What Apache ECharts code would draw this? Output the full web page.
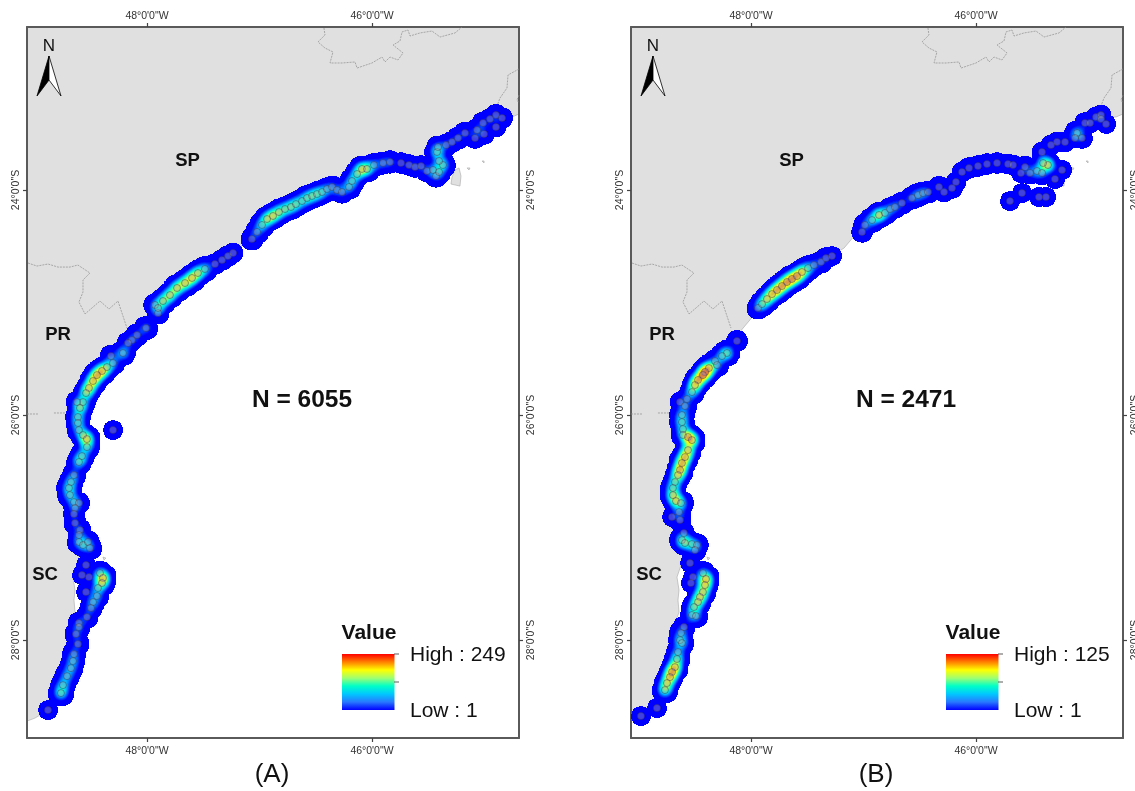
<!DOCTYPE html>
<html><head><meta charset="utf-8">
<style>html,body{margin:0;padding:0;background:#fff}#c{width:1135px;height:791px}</style>
<script src="https://cdn.jsdelivr.net/npm/echarts@6/dist/echarts.min.js"></script>
</head><body><div id="c"></div>
<script>
// [lon, lat, kernel density level]
const sitesA_north = [[-47.067,-24.436,8],[-47.022,-24.373,12],[-46.978,-24.311,20],[-46.933,-24.258,28],[-46.880,-24.231,30],[-46.827,-24.196,25],[-46.773,-24.169,20],[-46.720,-24.151,20],[-46.676,-24.125,20],[-46.622,-24.098,16],[-46.578,-24.071,18],[-46.533,-24.053,18],[-46.489,-24.036,18],[-46.444,-24.018,16],[-46.400,-23.991,10],[-46.355,-23.973,8],[-46.311,-24.000,8],[-46.267,-24.018,10],[-46.204,-23.973,16],[-46.178,-23.920,18],[-46.133,-23.858,22],[-46.089,-23.813,30],[-46.044,-23.813,24],[-45.982,-23.778,14],[-45.902,-23.760,10],[-45.840,-23.751,10],[-45.742,-23.760,6],[-45.671,-23.778,6],[-45.618,-23.796,6],[-45.564,-23.787,6],[-45.511,-23.831,8],[-45.458,-23.822,10],[-45.431,-23.876,10],[-45.404,-23.840,14],[-45.369,-23.778,20],[-45.404,-23.742,14],[-45.422,-23.662,22],[-45.413,-23.618,10],[-45.342,-23.600,8],[-45.289,-23.573,6],[-45.235,-23.538,8],[-45.173,-23.493,8],[-45.084,-23.538,6],[-45.004,-23.502,6],[-45.066,-23.467,10],[-45.013,-23.404,8],[-44.951,-23.369,6],[-44.898,-23.333,6],[-44.844,-23.360,6],[-44.898,-23.440,5]];
const sitesA_central = [[-48.134,-25.334,6],[-48.089,-25.289,10],[-48.009,-25.227,14],[-47.929,-25.022,10],[-47.902,-25.094,8],[-47.902,-25.049,16],[-47.858,-24.987,30],[-47.796,-24.934,34],[-47.733,-24.871,36],[-47.662,-24.827,40],[-47.600,-24.782,36],[-47.547,-24.738,30],[-47.485,-24.702,20],[-47.396,-24.658,6],[-47.333,-24.622,6],[-47.280,-24.587,6],[-47.235,-24.560,5],[-48.169,-25.360,8],[-48.214,-25.449,22],[-48.320,-25.476,8]];
const sitesA_south = [[-48.302,-25.538,14],[-48.356,-25.574,22],[-48.400,-25.609,60],[-48.445,-25.645,60],[-48.480,-25.698,45],[-48.516,-25.760,32],[-48.542,-25.805,24],[-48.569,-25.885,18],[-48.622,-25.885,8],[-48.596,-25.938,26],[-48.614,-26.018,18],[-48.614,-26.071,16],[-48.605,-26.134,14],[-48.569,-26.178,18],[-48.534,-26.214,44],[-48.534,-26.285,22],[-48.578,-26.365,20],[-48.605,-26.418,22],[-48.649,-26.534,14],[-48.676,-26.596,16],[-48.694,-26.649,18],[-48.685,-26.712,18],[-48.649,-26.774,14],[-48.605,-26.783,7],[-48.640,-26.827,7],[-48.649,-26.880,7],[-48.640,-26.960,8],[-48.596,-27.023,8],[-48.605,-27.067,8],[-48.605,-27.129,14],[-48.569,-27.156,14],[-48.525,-27.129,10],[-48.507,-27.183,12],[-48.542,-27.334,4],[-48.578,-27.423,4],[-48.516,-27.441,4],[-48.542,-27.574,4],[-48.418,-27.405,16],[-48.391,-27.449,44],[-48.400,-27.494,24],[-48.436,-27.538,16],[-48.445,-27.609,14],[-48.480,-27.663,14],[-48.498,-27.716,10],[-48.534,-27.796,10],[-48.605,-27.849,8],[-48.605,-27.885,8],[-48.631,-27.947,10],[-48.614,-28.036,10],[-48.649,-28.125,12],[-48.658,-28.187,14],[-48.676,-28.250,16],[-48.711,-28.321,18],[-48.747,-28.401,20],[-48.765,-28.472,26],[-48.880,-28.623,4],[-48.302,-26.134,4]];
const sitesB_north = [[-47.013,-24.373,6],[-46.987,-24.311,10],[-46.924,-24.267,20],[-46.862,-24.222,34],[-46.809,-24.204,12],[-46.764,-24.169,10],[-46.720,-24.151,10],[-46.658,-24.116,8],[-46.569,-24.071,10],[-46.516,-24.045,12],[-46.471,-24.027,10],[-46.427,-24.018,8],[-46.329,-23.973,6],[-46.284,-24.018,5],[-46.213,-23.982,6],[-46.178,-23.929,5],[-46.124,-23.840,5],[-46.062,-23.805,6],[-45.982,-23.787,6],[-45.902,-23.769,6],[-45.813,-23.760,6],[-45.715,-23.769,5],[-45.671,-23.778,5],[-45.600,-23.849,4],[-45.564,-23.796,8],[-45.520,-23.849,8],[-45.458,-23.831,14],[-45.413,-23.849,12],[-45.360,-23.778,34],[-45.404,-23.760,20],[-45.413,-23.662,5],[-45.333,-23.600,5],[-45.280,-23.573,5],[-45.209,-23.573,5],[-45.235,-23.822,4],[-45.298,-23.902,4],[-45.591,-24.027,4],[-45.698,-24.098,4],[-45.440,-24.062,4],[-45.378,-24.062,4],[-45.102,-23.493,20],[-45.058,-23.538,6],[-45.120,-23.538,5],[-45.031,-23.404,6],[-44.986,-23.404,5],[-44.933,-23.351,5],[-44.889,-23.333,5],[-44.889,-23.369,5],[-44.844,-23.413,4]];
const sitesB_central = [[-47.938,-25.049,8],[-47.902,-25.014,22],[-47.858,-24.969,30],[-47.813,-24.925,34],[-47.769,-24.889,36],[-47.725,-24.854,44],[-47.680,-24.818,60],[-47.636,-24.791,60],[-47.591,-24.765,58],[-47.547,-24.729,34],[-47.493,-24.694,18],[-47.440,-24.667,8],[-47.378,-24.640,8],[-47.333,-24.605,6],[-47.280,-24.587,4],[-48.125,-25.342,6],[-48.214,-25.449,26],[-48.258,-25.476,14]];
const sitesB_south = [[-48.320,-25.520,8],[-48.302,-25.556,12],[-48.374,-25.583,60],[-48.409,-25.618,60],[-48.427,-25.645,58],[-48.471,-25.689,40],[-48.498,-25.734,32],[-48.525,-25.796,22],[-48.569,-25.858,8],[-48.631,-25.885,5],[-48.587,-25.920,12],[-48.614,-26.000,18],[-48.614,-26.063,20],[-48.605,-26.125,16],[-48.605,-26.178,12],[-48.560,-26.196,44],[-48.525,-26.223,60],[-48.560,-26.312,40],[-48.587,-26.374,44],[-48.614,-26.427,50],[-48.631,-26.489,40],[-48.649,-26.534,28],[-48.676,-26.596,20],[-48.694,-26.649,18],[-48.694,-26.712,28],[-48.667,-26.765,30],[-48.622,-26.783,18],[-48.640,-26.863,12],[-48.702,-26.907,4],[-48.631,-26.934,8],[-48.596,-27.049,6],[-48.614,-27.112,20],[-48.587,-27.138,22],[-48.525,-27.147,16],[-48.480,-27.156,10],[-48.498,-27.201,8],[-48.542,-27.316,4],[-48.516,-27.441,4],[-48.534,-27.494,4],[-48.427,-27.405,14],[-48.400,-27.458,48],[-48.409,-27.512,30],[-48.427,-27.574,26],[-48.454,-27.618,26],[-48.471,-27.663,24],[-48.507,-27.707,22],[-48.525,-27.778,14],[-48.489,-27.787,14],[-48.596,-27.885,8],[-48.622,-27.938,12],[-48.631,-28.001,14],[-48.614,-28.027,16],[-48.649,-28.107,14],[-48.658,-28.169,24],[-48.676,-28.241,44],[-48.702,-28.285,34],[-48.720,-28.330,32],[-48.747,-28.383,28],[-48.765,-28.445,30],[-48.836,-28.605,4],[-48.978,-28.676,4]];

const landRing = [[-49.067,-28.721],[-48.996,-28.694],[-48.934,-28.658],[-48.845,-28.552],[-48.774,-28.401],[-48.703,-28.178],[-48.667,-27.956],[-48.658,-27.805],[-48.640,-27.752],[-48.649,-27.645],[-48.640,-27.556],[-48.658,-27.441],[-48.622,-27.334],[-48.578,-27.156],[-48.667,-26.934],[-48.720,-26.667],[-48.640,-26.400],[-48.614,-26.134],[-48.667,-25.911],[-48.551,-25.734],[-48.418,-25.556],[-48.196,-25.378],[-47.973,-25.111],[-47.751,-24.889],[-47.396,-24.658],[-47.173,-24.516],[-46.978,-24.285],[-46.640,-24.071],[-46.284,-23.982],[-46.107,-23.778],[-45.840,-23.733],[-45.573,-23.778],[-45.431,-23.778],[-45.467,-23.627],[-45.173,-23.467],[-44.889,-23.342],[-44.755,-23.351],[-44.693,-23.324],[-44.693,-22.551],[-49.067,-22.551],[-49.067,-28.721]];
const islandRings = [
  [[-45.262,-23.822],[-45.226,-23.804],[-45.209,-23.876],[-45.218,-23.965],[-45.298,-23.947],[-45.289,-23.885],[-45.262,-23.822]],
  [[-45.155,-23.804],[-45.129,-23.804],[-45.138,-23.822],[-45.155,-23.804]],
  [[-45.022,-23.742],[-45.004,-23.742],[-45.004,-23.760],[-45.022,-23.742]],
  [[-48.391,-27.263],[-48.365,-27.272],[-48.382,-27.289],[-48.391,-27.263]]
];
const stateLines = [
  [[-46.427,-22.560],[-46.418,-22.622],[-46.480,-22.684],[-46.418,-22.738],[-46.347,-22.773],[-46.373,-22.871],[-46.267,-22.871],[-46.151,-22.862],[-46.133,-22.916],[-46.000,-22.871],[-45.911,-22.818],[-45.884,-22.862],[-45.840,-22.818],[-45.769,-22.844],[-45.724,-22.782],[-45.813,-22.711],[-45.751,-22.675],[-45.733,-22.595],[-45.680,-22.578],[-45.662,-22.631],[-45.573,-22.604],[-45.467,-22.587],[-45.395,-22.640],[-45.262,-22.604],[-45.200,-22.551]],
  [[-44.693,-22.924],[-44.791,-22.978],[-44.800,-23.093],[-44.862,-23.182],[-44.889,-23.253]],
  [[-44.693,-23.156],[-44.711,-23.200],[-44.693,-23.227]],
  [[-49.058,-24.649],[-48.978,-24.676],[-48.880,-24.658],[-48.791,-24.685],[-48.685,-24.685],[-48.614,-24.667],[-48.507,-24.738],[-48.569,-24.800],[-48.569,-24.907],[-48.605,-24.996],[-48.551,-25.102],[-48.418,-24.987],[-48.338,-25.058],[-48.258,-24.987],[-48.178,-25.227]],
  [[-49.067,-25.991],[-48.969,-25.991]],
  [[-48.827,-25.982],[-48.685,-25.982]]
];
const lonTicks = [-48, -46];
const latTicks = [-24, -26, -28];
const lonLabels = {'-48': '48°0\'0"W', '-46': '46°0\'0"W'};
const latLabels = {'-24': '24°0\'0"S', '-26': '26°0\'0"S', '-28': '28°0\'0"S'};
const lonRange = [-49.0667, -44.6933];
const latRange = [-28.8711, -22.5511];
const panelNames = ['(A)', '(B)'];
const sampleSizes = ['N = 6055', 'N = 2471'];
const highLabels = ['High : 249', 'High : 125'];
const lowLabel = 'Low : 1';
const stateNames = ['SP', 'PR', 'SC'];
const heatColors = ['#0000ff','#0000ff','#0060ff','#00c0ff','#00ffd0','#a0ff60','#ffff00','#ff9000','#ff2000','#ff0000','#ff0000'];
const rampColors = ['#ff0000','#ff8000','#ffff00','#a0ff70','#00ffc8','#00c8ff','#2878ff','#0000ff'];

const FONT = '"Liberation Sans", Arial, sans-serif';
const sitesA = [...sitesA_north, ...sitesA_central, ...sitesA_south];
const sitesB = [...sitesB_north, ...sitesB_central, ...sitesB_south];

echarts.registerMap('coast', {type:'FeatureCollection', features:[
  {type:'Feature', properties:{name:'land'}, geometry:{type:'Polygon', coordinates:[landRing]}},
  {type:'Feature', properties:{name:'islands'}, geometry:{type:'MultiPolygon', coordinates:islandRings.map(r=>[r])}}
]});

const panelLeft = [27, 631], frameW = 492, frameH = 711, frameTop = 27;
const axisLine = {show:true, onZero:false, lineStyle:{color:'#5a5a5a', width:2}};
const tick = (vals)=>({show:true, length:4, customValues:vals, lineStyle:{color:'#444', width:1.2}});
const xAxes = [], yAxes = [], grids = [], geos = [], series = [], visualMaps = [];
[0,1].forEach(p=>{
  grids.push({left:panelLeft[p], top:frameTop, width:frameW, height:frameH, containLabel:false, outerBoundsMode:'none'});
  geos.push({map:'coast', left:panelLeft[p], top:frameTop, width:frameW, height:frameH, aspectScale:1, roam:false, silent:true, z:0,
    boundingCoords:[[lonRange[0],latRange[1]],[lonRange[1],latRange[0]]],
    label:{show:false}, itemStyle:{areaColor:'#e0e0e0', borderColor:'#a8a8a8', borderWidth:0.6}, emphasis:{disabled:true}, select:{disabled:true}});
  ['top','bottom'].forEach((pos,i)=>xAxes.push({type:'value', gridIndex:p, position:pos, min:lonRange[0], max:lonRange[1], splitLine:{show:false}, axisLine, axisTick:tick(lonTicks),
    axisLabel:{customValues:lonTicks, margin:[5,8][i], fontSize:10.5, fontFamily:FONT, color:'#333', formatter:v=>lonLabels[Math.round(v)]}}));
  ['left','right'].forEach((pos,i)=>yAxes.push({type:'value', gridIndex:p, position:pos, min:latRange[0], max:latRange[1], splitLine:{show:false}, axisLine, axisTick:tick(latTicks),
    axisLabel:{customValues:latTicks, rotate:90, margin:[5,7][i], fontSize:10.5, fontFamily:FONT, color:'#333', formatter:v=>latLabels[Math.round(v)]}}));
});
[sitesA, sitesB].forEach((d,p)=>{
  series.push({type:'heatmap', coordinateSystem:'geo', geoIndex:p, data:d, pointSize:5, blurSize:8, minOpacity:1, maxOpacity:1, silent:true, z:2});
  visualMaps.push({type:'continuous', show:false, seriesIndex:p, dimension:2, min:0, max:36, range:[0.2,36],
    inRange:{color:heatColors}, outOfRange:{color:'rgba(0,0,0,0)'}});
});
[sitesA, sitesB].forEach((d,p)=>{
  series.push({type:'scatter', xAxisIndex:p*2, yAxisIndex:p*2, data:d.map(r=>[r[0],r[1]]), symbolSize:7, silent:true, z:4, clip:false,
    itemStyle:{color:'rgba(165,165,180,0.5)', borderColor:'rgba(50,50,80,0.7)', borderWidth:0.8}});
  stateLines.forEach(l=>series.push({type:'line', xAxisIndex:p*2, yAxisIndex:p*2, data:l, showSymbol:false, silent:true, z:1,
    lineStyle:{color:'#8c8c8c', width:0.7, type:[2,1]}}));
});

const statePos = [[160.5,161],[31,335],[18,575]];
const gfx = [];
[0,1].forEach(p=>{
  const L = panelLeft[p];
  const txt = (s,x,y,size,weight,align)=>gfx.push({type:'text', silent:true, z:20, style:{text:s, x, y, fontFamily:FONT, fontSize:size, fontWeight:weight||'normal', fill:'#111', align:align||'center', verticalAlign:'middle'}});
  stateNames.forEach((s,i)=>txt(s, L+statePos[i][0], statePos[i][1], 18.5, 'bold'));
  txt(sampleSizes[p], L+275, 400, 24.5, 'bold');
  txt(panelNames[p], L+245, 775, 26);
  txt('N', L+22, 46, 17);
  txt('Value', L+315+27, 633, 21, 'bold');
  txt(highLabels[p], L+383, 655, 21, 'normal', 'left');
  txt(lowLabel, L+383, 711, 21, 'normal', 'left');
  gfx.push({type:'polygon', silent:true, z:20, shape:{points:[[L+22,56],[L+10,96],[L+22,80]]}, style:{fill:'#000', stroke:'#000', lineWidth:0.8}});
  gfx.push({type:'polygon', silent:true, z:20, shape:{points:[[L+22,56],[L+34,96],[L+22,80]]}, style:{fill:'#fff', stroke:'#000', lineWidth:0.8}});
  gfx.push({type:'rect', silent:true, z:20, shape:{x:L+315, y:654, width:52.5, height:56}, style:{fill:new echarts.graphic.LinearGradient(0,0,0,1,rampColors.map((c,i)=>({offset:i/(rampColors.length-1), color:c})))}});
  [654,682].forEach(y=>gfx.push({type:'line', silent:true, z:20, shape:{x1:L+367, y1:y, x2:L+372, y2:y}, style:{stroke:'#333', lineWidth:0.8}}));
});

const chart = echarts.init(document.getElementById('c'), null, {renderer:'canvas'});
chart.setOption({animation:false, backgroundColor:'#fff', grid:grids, geo:geos, xAxis:xAxes, yAxis:yAxes, visualMap:visualMaps, series, graphic:{elements:gfx}});
</script></body></html>
